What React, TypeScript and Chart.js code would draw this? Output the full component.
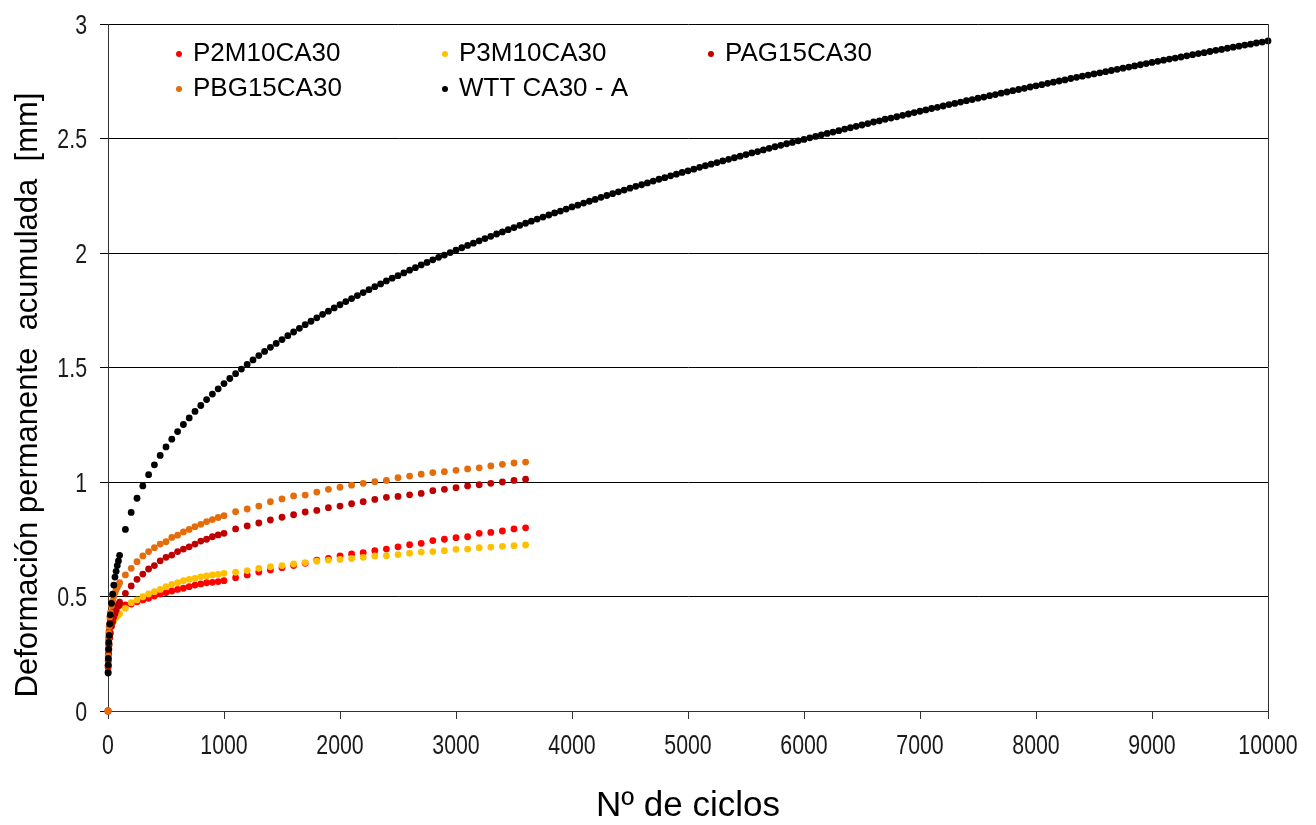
import React, { useEffect, useRef } from "react";
import { Chart, registerables } from "chart.js";

Chart.register(...registerables);

// ---------- DATA ----------
const seriesNames = ["P2M10CA30", "P3M10CA30", "PAG15CA30", "PBG15CA30", "WTT CA30 - A"];
const seriesColors = ["#FF0000", "#FFC000", "#C00000", "#E46C0A", "#000000"];

const xTitle = "Nº de ciclos";
const yTitle = "Deformación permanente  acumulada  [mm]";

const xTickValues = [0, 1000, 2000, 3000, 4000, 5000, 6000, 7000, 8000, 9000, 10000];
const yTickValues = [0, 0.5, 1, 1.5, 2, 2.5, 3];

// cycles for the four shorter tests (0 .. 3600)
const cyclesShort = [
  0, 1, 2, 3, 5, 7, 10, 15, 20, 30, 40, 50, 60, 70, 80, 90, 100,
  150, 200, 250, 300, 350, 400, 450, 500, 550, 600, 650, 700, 750, 800, 850, 900, 950, 1000,
  1100, 1200, 1300, 1400, 1500, 1600, 1700, 1800, 1900, 2000, 2100, 2200, 2300, 2400, 2500,
  2600, 2700, 2800, 2900, 3000, 3100, 3200, 3300, 3400, 3500, 3600,
];

const p2m10ca30 = [
  0, 0.19, 0.22, 0.25, 0.29, 0.32, 0.35, 0.38, 0.40, 0.42, 0.435, 0.445, 0.45, 0.455, 0.458, 0.46, 0.462,
  0.463, 0.467, 0.477, 0.485, 0.492, 0.502, 0.511, 0.517, 0.524, 0.531, 0.536, 0.543, 0.550, 0.555, 0.560, 0.562, 0.565, 0.569,
  0.582, 0.594, 0.607, 0.616, 0.626, 0.635, 0.645, 0.659, 0.666, 0.677, 0.686, 0.691, 0.700, 0.707, 0.717,
  0.726, 0.732, 0.744, 0.750, 0.757, 0.761, 0.776, 0.780, 0.786, 0.795, 0.800,
];

const p3m10ca30 = [
  0, 0.17, 0.20, 0.22, 0.25, 0.27, 0.29, 0.32, 0.34, 0.37, 0.385, 0.395, 0.405, 0.41, 0.415, 0.42, 0.425,
  0.448, 0.473, 0.485, 0.499, 0.511, 0.521, 0.531, 0.543, 0.553, 0.560, 0.569, 0.575, 0.579, 0.586, 0.590, 0.594, 0.597, 0.601,
  0.606, 0.613, 0.623, 0.630, 0.635, 0.642, 0.648, 0.654, 0.659, 0.662, 0.666, 0.671, 0.677, 0.678, 0.683,
  0.689, 0.694, 0.696, 0.700, 0.706, 0.707, 0.713, 0.716, 0.719, 0.722, 0.725,
];

const pag15ca30 = [
  0, 0.17, 0.20, 0.22, 0.25, 0.27, 0.29, 0.32, 0.34, 0.37, 0.39, 0.41, 0.425, 0.44, 0.455, 0.465, 0.475,
  0.514, 0.546, 0.575, 0.598, 0.620, 0.635, 0.656, 0.671, 0.681, 0.696, 0.707, 0.717, 0.729, 0.742, 0.750, 0.761, 0.769, 0.776,
  0.795, 0.808, 0.821, 0.834, 0.846, 0.857, 0.869, 0.876, 0.888, 0.895, 0.905, 0.914, 0.924, 0.933, 0.937,
  0.944, 0.950, 0.962, 0.968, 0.975, 0.983, 0.988, 0.994, 1.000, 1.007, 1.012,
];

const pbg15ca30 = [
  0, 0.20, 0.24, 0.27, 0.31, 0.34, 0.37, 0.41, 0.43, 0.46, 0.48, 0.50, 0.515, 0.53, 0.54, 0.55, 0.56,
  0.594, 0.623, 0.652, 0.677, 0.696, 0.713, 0.729, 0.739, 0.758, 0.768, 0.782, 0.793, 0.805, 0.815, 0.827, 0.836, 0.845, 0.853,
  0.870, 0.882, 0.895, 0.914, 0.926, 0.939, 0.943, 0.956, 0.968, 0.977, 0.986, 0.994, 1.001, 1.007, 1.019,
  1.026, 1.034, 1.041, 1.045, 1.051, 1.057, 1.062, 1.070, 1.077, 1.083, 1.087,
];

// cycles for the long wheel tracking test (1 .. 10000)
const cyclesWTT = [
  1, 2, 3, 5, 7, 10, 15, 20, 30, 40, 50, 60, 70, 80, 90, 100,
  150, 200, 250, 300, 350, 400, 450, 500, 550, 600, 650, 700, 750, 800, 850, 900, 950, 1000,
  1050, 1100, 1150, 1200, 1250, 1300, 1350, 1400, 1450, 1500, 1550, 1600, 1650, 1700, 1750, 1800, 1850, 1900, 1950, 2000,
  2050, 2100, 2150, 2200, 2250, 2300, 2350, 2400, 2450, 2500, 2550, 2600, 2650, 2700, 2750, 2800, 2850, 2900, 2950, 3000,
  3050, 3100, 3150, 3200, 3250, 3300, 3350, 3400, 3450, 3500, 3550, 3600, 3650, 3700, 3750, 3800, 3850, 3900, 3950, 4000,
  4050, 4100, 4150, 4200, 4250, 4300, 4350, 4400, 4450, 4500, 4550, 4600, 4650, 4700, 4750, 4800, 4850, 4900, 4950, 5000,
  5050, 5100, 5150, 5200, 5250, 5300, 5350, 5400, 5450, 5500, 5550, 5600, 5650, 5700, 5750, 5800, 5850, 5900, 5950, 6000,
  6050, 6100, 6150, 6200, 6250, 6300, 6350, 6400, 6450, 6500, 6550, 6600, 6650, 6700, 6750, 6800, 6850, 6900, 6950, 7000,
  7050, 7100, 7150, 7200, 7250, 7300, 7350, 7400, 7450, 7500, 7550, 7600, 7650, 7700, 7750, 7800, 7850, 7900, 7950, 8000,
  8050, 8100, 8150, 8200, 8250, 8300, 8350, 8400, 8450, 8500, 8550, 8600, 8650, 8700, 8750, 8800, 8850, 8900, 8950, 9000,
  9050, 9100, 9150, 9200, 9250, 9300, 9350, 9400, 9450, 9500, 9550, 9600, 9650, 9700, 9750, 9800, 9850, 9900, 9950, 10000,
];

const wttCA30A = [
  0.166, 0.20, 0.23, 0.27, 0.30, 0.33, 0.38, 0.42, 0.47, 0.51, 0.55, 0.585, 0.61, 0.635, 0.655, 0.68,
  0.793, 0.867, 0.929, 0.983, 1.032, 1.075, 1.116, 1.153, 1.187, 1.220, 1.251, 1.280, 1.308, 1.334, 1.360, 1.384, 1.407, 1.430,
  1.452, 1.473, 1.493, 1.513, 1.533, 1.552, 1.570, 1.588, 1.605, 1.622, 1.639, 1.655, 1.671, 1.687, 1.702, 1.717, 1.732, 1.746, 1.760, 1.774,
  1.788, 1.801, 1.814, 1.827, 1.840, 1.853, 1.865, 1.878, 1.890, 1.901, 1.913, 1.925, 1.936, 1.948, 1.959, 1.970, 1.981, 1.991, 2.002, 2.012,
  2.023, 2.033, 2.043, 2.053, 2.063, 2.073, 2.083, 2.092, 2.102, 2.111, 2.121, 2.130, 2.139, 2.148, 2.157, 2.166, 2.175, 2.183, 2.192, 2.201,
  2.209, 2.218, 2.226, 2.234, 2.243, 2.251, 2.259, 2.267, 2.275, 2.283, 2.291, 2.298, 2.306, 2.314, 2.322, 2.329, 2.337, 2.344, 2.352, 2.359,
  2.366, 2.374, 2.381, 2.388, 2.395, 2.402, 2.409, 2.416, 2.423, 2.430, 2.437, 2.443, 2.450, 2.457, 2.464, 2.470, 2.477, 2.483, 2.490, 2.496,
  2.503, 2.509, 2.516, 2.522, 2.528, 2.534, 2.541, 2.547, 2.553, 2.559, 2.565, 2.572, 2.577, 2.584, 2.589, 2.595, 2.601, 2.607, 2.613, 2.619,
  2.625, 2.631, 2.636, 2.642, 2.648, 2.653, 2.659, 2.665, 2.670, 2.676, 2.681, 2.687, 2.692, 2.698, 2.703, 2.709, 2.714, 2.719, 2.725, 2.730,
  2.735, 2.741, 2.746, 2.751, 2.756, 2.762, 2.767, 2.772, 2.777, 2.782, 2.787, 2.792, 2.797, 2.802, 2.807, 2.812, 2.817, 2.822, 2.827, 2.832,
  2.837, 2.842, 2.847, 2.851, 2.856, 2.861, 2.866, 2.871, 2.875, 2.880, 2.885, 2.889, 2.894, 2.899, 2.903, 2.908, 2.912, 2.917, 2.921, 2.926,
];

// ---------- STYLE ----------
const SANS = "'Liberation Sans', Arial, Helvetica, sans-serif";
const TICK_FONT = `27px ${SANS}`;
const TICK_SQUEEZE = 0.79; // the reference tick labels are horizontally condensed
const TICK_COLOR = "#1a1a1a";

const legendSlots = [
  [179, 54],
  [445, 54],
  [711, 54],
  [179, 89],
  [445, 89],
];

const overlayPlugin = {
  id: "overlay",
  afterDraw(chart: any) {
    const ctx: CanvasRenderingContext2D = chart.ctx;
    const area = chart.chartArea;
    const xs = chart.scales.x;
    const ys = chart.scales.y;
    ctx.save();
    // right frame line
    ctx.strokeStyle = "#333";
    ctx.lineWidth = 1;
    const rx = Math.round(area.right) + 0.5;
    ctx.beginPath();
    ctx.moveTo(rx, area.top);
    ctx.lineTo(rx, area.bottom);
    ctx.stroke();

    // tick labels (condensed), positioned by the chart's scales
    ctx.font = TICK_FONT;
    ctx.fillStyle = TICK_COLOR;
    ctx.textBaseline = "alphabetic";
    ctx.textAlign = "center";
    xTickValues.forEach((v) => {
      const px = xs.getPixelForValue(v);
      ctx.save();
      ctx.translate(px, area.bottom + 42.5);
      ctx.scale(TICK_SQUEEZE, 1);
      ctx.fillText(String(v), 0, 0);
      ctx.restore();
    });
    ctx.textAlign = "right";
    yTickValues.forEach((v) => {
      const py = ys.getPixelForValue(v);
      ctx.save();
      ctx.translate(area.left - 21, py + 9.7);
      ctx.scale(TICK_SQUEEZE, 1);
      ctx.fillText(String(v), 0, 0);
      ctx.restore();
    });

    // legend
    ctx.font = `26px ${SANS}`;
    ctx.textAlign = "left";
    ctx.textBaseline = "middle";
    chart.data.datasets.forEach((ds: any, i: number) => {
      const [lx, ly] = legendSlots[i];
      ctx.fillStyle = ds.backgroundColor;
      ctx.beginPath();
      ctx.arc(lx, ly, 3, 0, Math.PI * 2);
      ctx.fill();
      ctx.fillStyle = "#000";
      ctx.fillText(ds.label, lx + 14, ly);
    });

    // y axis title
    ctx.translate(28, 395);
    ctx.rotate(-Math.PI / 2);
    ctx.font = `31px ${SANS}`;
    ctx.textAlign = "center";
    ctx.textBaseline = "middle";
    ctx.fillStyle = "#000";
    ctx.fillText(yTitle, 0, 0);
    ctx.restore();
  },
};

function toPoints(xs: number[], ys: number[]) {
  return xs.map((x, i) => ({ x, y: ys[i] }));
}

export default function App() {
  const canvasRef = useRef<HTMLCanvasElement | null>(null);

  useEffect(() => {
    const canvas = canvasRef.current;
    if (!canvas) return;
    const seriesValues = [p2m10ca30, p3m10ca30, pag15ca30, pbg15ca30, wttCA30A];
    const seriesX = [cyclesShort, cyclesShort, cyclesShort, cyclesShort, cyclesWTT];

    const datasets = seriesNames.map((name, i) => ({
      label: name,
      data: toPoints(seriesX[i], seriesValues[i]),
      backgroundColor: seriesColors[i],
      borderColor: seriesColors[i],
      pointRadius: 3.4,
      pointBorderWidth: 0,
      pointHoverRadius: 3.4,
      showLine: false,
      clip: false as any,
      order: seriesNames.length - i,
    }));

    const chart = new Chart(canvas, {
      type: "scatter",
      data: { datasets },
      plugins: [overlayPlugin],
      options: {
        animation: false,
        responsive: false,
        events: [],
        layout: { padding: { top: 24, right: 48, left: 0, bottom: 0 } },
        plugins: {
          legend: { display: false },
          tooltip: { enabled: false },
          title: { display: false },
        },
        scales: {
          x: {
            type: "linear",
            min: xTickValues[0],
            max: xTickValues[xTickValues.length - 1],
            afterFit: (s: any) => {
              s.height = 114;
            },
            afterBuildTicks: (s: any) => {
              s.ticks = xTickValues.map((v) => ({ value: v }));
            },
            ticks: { display: false, autoSkip: false },
            grid: {
              display: true,
              drawOnChartArea: false,
              drawTicks: true,
              tickLength: 8,
              color: "#333",
              lineWidth: 1,
            },
            border: { display: true, color: "#333", width: 1 },
            title: {
              display: true,
              text: xTitle,
              color: "#000",
              font: { family: SANS, size: 35, lineHeight: 1 },
              padding: { top: 0, bottom: 1 },
            },
          },
          y: {
            type: "linear",
            min: yTickValues[0],
            max: yTickValues[yTickValues.length - 1],
            afterFit: (s: any) => {
              s.width = 108;
            },
            afterBuildTicks: (s: any) => {
              s.ticks = yTickValues.map((v) => ({ value: v }));
            },
            ticks: { display: false, autoSkip: false },
            grid: {
              display: true,
              drawOnChartArea: true,
              drawTicks: true,
              tickLength: 8,
              color: "#000",
              lineWidth: 1,
            },
            border: { display: true, color: "#333", width: 1 },
          },
        },
      },
    } as any);

    return () => {
      chart.destroy();
    };
  }, []);

  return (
    <div style={{ position: "absolute", left: 0, top: 0, width: 1316, height: 825, background: "#fff" }}>
      <canvas ref={canvasRef} width={1316} height={825} />
    </div>
  );
}
